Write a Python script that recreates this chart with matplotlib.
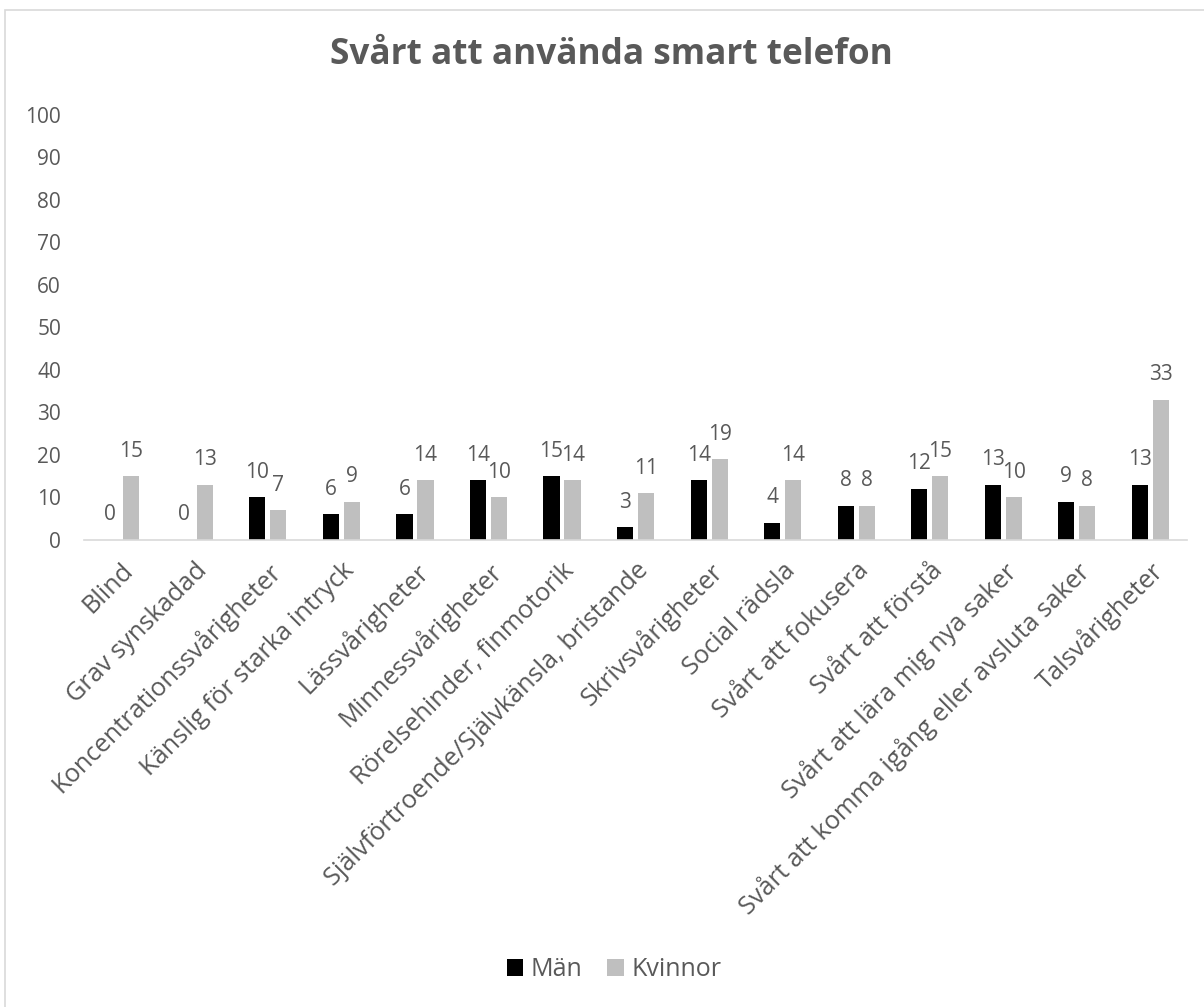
import matplotlib
matplotlib.use("Agg")
import matplotlib.pyplot as plt
from matplotlib.patches import Rectangle
from matplotlib.transforms import ScaledTranslation
import numpy as np

categories = [
    "Blind", "Grav synskadad", "Koncentrationssvårigheter",
    "Känslig för starka intryck", "Lässvårigheter", "Minnessvårigheter",
    "Rörelsehinder, finmotorik", "Självförtroende/Självkänsla, bristande",
    "Skrivsvårigheter", "Social rädsla", "Svårt att fokusera",
    "Svårt att förstå", "Svårt att lära mig nya saker",
    "Svårt att komma igång eller avsluta saker", "Talsvårigheter",
]
man = [0, 0, 10, 6, 6, 14, 15, 3, 14, 4, 8, 12, 13, 9, 13]
kvinnor = [15, 13, 7, 9, 14, 10, 14, 11, 19, 14, 8, 15, 10, 8, 33]
yticks = list(range(0, 101, 10))

TEXT = "#595959"
plt.rcParams["font.family"] = ["Open Sans", "DejaVu Sans"]

fig = plt.figure(figsize=(12.04, 10.07), dpi=100)
fig.patches.append(Rectangle((0.004, -0.01), 1.1, 1.0, transform=fig.transFigure,
                             facecolor="none", edgecolor="#d9d9d9", linewidth=1.2))

ax = fig.add_axes([0.0698, 0.4638, 0.9162, 0.422])
x = np.arange(len(categories))
w = 0.22
off = 0.143
b1 = ax.bar(x - off, man, width=w, color="#000000", label="Män")
b2 = ax.bar(x + off, kvinnor, width=w, color="#bfbfbf", label="Kvinnor")

for bars, vals in ((b1, man), (b2, kvinnor)):
    for rect, v in zip(bars, vals):
        ax.annotate(str(v), (rect.get_x() + rect.get_width() / 2, v),
                    xytext=(0, 18), textcoords="offset points",
                    ha="center", va="center", fontsize=15, color=TEXT)

ax.set_xlim(-0.5, len(categories) - 0.5)
ax.set_ylim(0, 100)
ax.set_yticks(yticks)
ax.set_yticklabels([str(t) for t in yticks], fontsize=15, color=TEXT)
ax.set_xticks(x)
ax.set_xticklabels(categories, rotation=45, ha="right", rotation_mode="anchor",
                   fontsize=18.3, color=TEXT)
shift = ScaledTranslation(-0.07, 0, fig.dpi_scale_trans)
for lbl in ax.get_xticklabels():
    lbl.set_transform(lbl.get_transform() + shift)
ax.tick_params(axis="both", length=0)
ax.tick_params(axis="y", pad=16.5)
ax.tick_params(axis="x", pad=13)
for s in ("top", "right", "left"):
    ax.spines[s].set_visible(False)
ax.spines["bottom"].set_color("#d9d9d9")
ax.spines["bottom"].set_linewidth(1.2)

fig.text(0.508, 0.945, "Svårt att använda smart telefon", ha="center", va="center",
         fontsize=25.3, fontweight="bold", color=TEXT)

fig.legend(handles=[b1, b2], labels=["Män", "Kvinnor"], loc="center",
           bbox_to_anchor=(0.51, 0.037), ncol=2, frameon=False, fontsize=18,
           handlelength=0.65, handleheight=0.65, handletextpad=0.3,
           columnspacing=1.0, labelcolor=TEXT)

fig.savefig("out.png", dpi=100)
